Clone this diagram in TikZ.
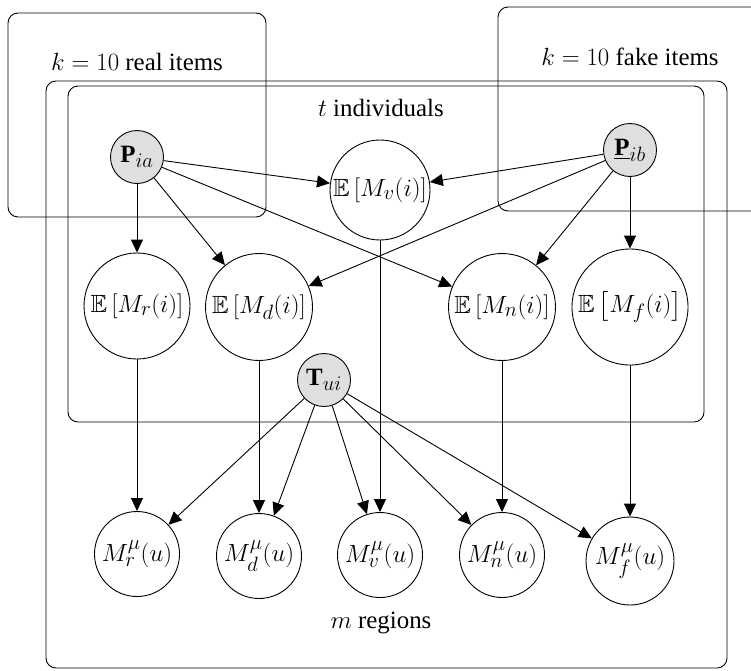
\documentclass[tikz,border=0pt]{standalone}
\usepackage{amsmath,amssymb}
\usepackage{fontspec}
\setmainfont{Liberation Serif}
\usetikzlibrary{arrows.meta}

\tikzset{
  var/.style={draw, circle, inner sep=0pt, line width=0.9pt},
  obs/.style={var, fill=gray!25, minimum size=53pt},
  plate/.style={draw, rounded corners=10pt, line width=0.9pt},
  edge/.style={-{Triangle[length=13pt,width=12pt]}, line width=0.9pt}
}

\begin{document}
\begin{tikzpicture}[x=1pt, y=-1pt, font=\Huge]
    \useasboundingbox (0,0) rectangle (751,670);
    \clip (0,0) rectangle (751,670);
    % plates
    \draw [plate] (8,13) rectangle (266,217);
    \draw [plate] (498,7) rectangle (790,211);
    \draw [plate] (46,81) rectangle (727,668);
    \draw [plate] (68,86) rectangle (704,422);
    \path (137,62)  node (realLbl) {$k=10$ real items}
          (630,57)  node (fakeLbl) {$k=10$ fake items}
          (381,108) node (indLbl) {$t$ individuals}
          (381,623) node (regLbl) {$m$ regions};
    % observed
    \node [obs] (Pia) at (137,157) {$\mathbf{P}_{ia}$};
    \node [obs] (Pib) at (630,150) {$\underline{\mathbf{P}}_{ib}$};
    \node [obs] (Tui) at (324,380) {$\mathbf{T}_{ui}$};
    % expectations
    \node [var, minimum size=100pt] (Ev) at (380,190) {$\mathbb{E}\,[M_v(i)]$};
    \node [var, minimum size=106pt] (Er) at (137,306) {$\mathbb{E}\,[M_r(i)]$};
    \node [var, minimum size=107pt] (Ed) at (259,307) {$\mathbb{E}\,[M_d(i)]$};
    \node [var, minimum size=107pt] (En) at (502,307) {$\mathbb{E}\,[M_n(i)]$};
    \node [var, minimum size=116pt] (Ef) at (630,307) {$\mathbb{E}\left[M_f(i)\right]$};
    % regions
    \node [var, minimum size=85pt] (Mr) at (137,554) {$M^{\mu}_{r}(u)$};
    \node [var, minimum size=85pt] (Md) at (259,556) {$M^{\mu}_{d}(u)$};
    \node [var, minimum size=85pt] (Mv) at (380,555) {$M^{\mu}_{v}(u)$};
    \node [var, minimum size=85pt] (Mn) at (502,555) {$M^{\mu}_{n}(u)$};
    \node [var, minimum size=88pt] (Mf) at (630,561) {$M^{\mu}_{f}(u)$};
    % edges
    \foreach \t in {Ev,Er,Ed,En}
      \draw [edge] (Pia) -- (\t);
    \foreach \t in {Ev,Ed,En,Ef}
      \draw [edge] (Pib) -- (\t);
    \foreach \s/\t in {Er/Mr,Ed/Md,Ev/Mv,En/Mn,Ef/Mf}
      \draw [edge] (\s) -- (\t);
    \foreach \t in {Mr,Md,Mv,Mn,Mf}
      \draw [edge] (Tui) -- (\t);
\end{tikzpicture}
\end{document}
